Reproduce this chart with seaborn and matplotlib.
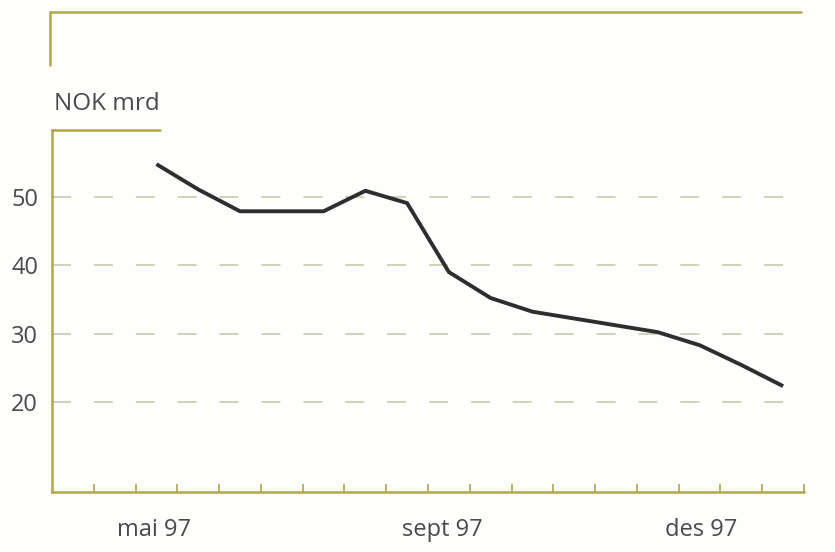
import matplotlib
matplotlib.use("Agg")
import matplotlib.pyplot as plt
import seaborn as sns
import pandas as pd
from matplotlib.lines import Line2D

# Data (half-month periods, index positions along the x axis)
periods = list(range(2, 18))
values = [54.8, 51.1, 47.9, 47.9, 47.9, 50.9, 49.1, 39.0, 35.2, 33.2,
          32.2, 31.2, 30.2, 28.3, 25.4, 22.3]
month_labels = ["mai 97", "sept 97", "des 97"]
month_positions = [1.95, 8.85, 15.05]
y_ticks = [20, 30, 40, 50]
unit_label = "NOK mrd"

df = pd.DataFrame({"period": periods, "value": values})

sns.set_theme(style="white")
plt.rcParams["font.family"] = ["Open Sans", "DejaVu Sans"]

olive = "#b3a64e"
text_col = "#4a4a4a"
grid_col = "#cfccb4"

fig = plt.figure(figsize=(8.35, 5.52), dpi=100)
fig.patch.set_facecolor("#fefefc")
ax = fig.add_axes([52 / 835, 1 - 492 / 552, (804 - 52) / 835, (492 - 130) / 552])
ax.set_facecolor("#fefefc")

sns.lineplot(data=df, x="period", y="value", ax=ax, color="#2e2e2e",
             linewidth=2.8, solid_joinstyle="miter", solid_capstyle="butt")

ax.set_xlim(-0.5, 17.5)
ax.set_ylim(6.8, 59.8)

for yv in y_ticks:
    ax.axhline(yv, xmin=0, xmax=(800 - 52) / (804 - 52), color=grid_col,
               linewidth=1.3, linestyle=(0, (10.5, 12.7)), zorder=0)

# spines
for side in ["top", "right"]:
    ax.spines[side].set_visible(False)
for side in ["left", "bottom"]:
    ax.spines[side].set_color(olive)
    ax.spines[side].set_linewidth(1.8)

# x ticks: boundaries (major, no labels) + month labels (minor, no marks)
ax.set_xticks([i + 0.5 for i in range(0, 18)])
ax.set_xticklabels([])
ax.tick_params(axis="x", which="major", direction="in", length=6, width=1.2,
               color=olive, bottom=True)
ax.set_xticks(month_positions, minor=True)
ax.set_xticklabels(month_labels, minor=True)
ax.tick_params(axis="x", which="minor", length=0, pad=19, labelsize=17,
               labelcolor=text_col)

ax.set_yticks(y_ticks)
ax.set_yticklabels([str(v) for v in y_ticks])
ax.tick_params(axis="y", length=0, pad=10, labelsize=17, labelcolor=text_col)

ax.set_xlabel("")
ax.set_ylabel("")

# frame decorations
W, H = 835, 552
def fx(px):
    return px / W
def fy(py):
    return 1 - py / H

fig.add_artist(Line2D([fx(50), fx(801)], [fy(12), fy(12)], color=olive, lw=1.8))
fig.add_artist(Line2D([fx(50), fx(50)], [fy(12), fy(65)], color=olive, lw=1.8))
fig.add_artist(Line2D([fx(52), fx(160)], [fy(130), fy(130)], color=olive, lw=1.8))
fig.text(fx(54), fy(104), unit_label, fontsize=17.5, color=text_col,
         ha="left", va="center")

fig.savefig("out.png", dpi=100, facecolor=fig.get_facecolor())
